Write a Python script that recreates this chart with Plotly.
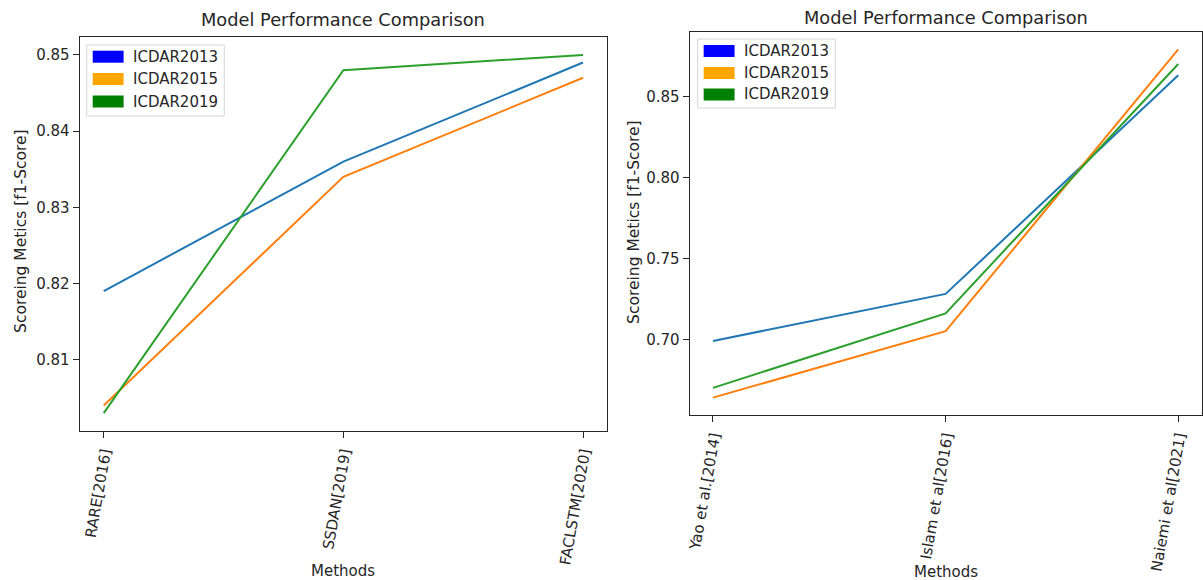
import plotly.graph_objects as go

# ---- data ----
methods_left = ["RARE[2016]", "SSDAN[2019]", "FACLSTM[2020]"]
left_icdar2013 = [0.819, 0.836, 0.849]
left_icdar2015 = [0.804, 0.834, 0.847]
left_icdar2019 = [0.803, 0.848, 0.850]

methods_right = ["Yao et al.[2014]", "Islam et al[2016]", "Naiemi et al[2021]"]
right_icdar2013 = [0.699, 0.728, 0.863]
right_icdar2015 = [0.664, 0.705, 0.879]
right_icdar2019 = [0.670, 0.716, 0.870]

series_names = ["ICDAR2013", "ICDAR2015", "ICDAR2019"]
line_colors = ["#1f77b4", "#ff7f0e", "#2ca02c"]
patch_colors = ["blue", "orange", "green"]

title_text = "Model Performance Comparison"
ytitle = "Scoreing Metics [f1-Score]"
xtitle = "Methods"

W, H = 1203, 580
FONT = "DejaVu Sans"
TXT = "#262626"


def px(x):
    return x / W


def py(y):
    return 1 - y / H


fig = go.Figure()

left_series = [left_icdar2013, left_icdar2015, left_icdar2019]
right_series = [right_icdar2013, right_icdar2015, right_icdar2019]

for name, vals, col in zip(series_names, left_series, line_colors):
    fig.add_trace(go.Scatter(x=methods_left, y=vals, mode="lines", name=name,
                             line=dict(color=col, width=2), xaxis="x", yaxis="y",
                             showlegend=False, hoverinfo="skip"))
for name, vals, col in zip(series_names, right_series, line_colors):
    fig.add_trace(go.Scatter(x=methods_right, y=vals, mode="lines", name=name,
                             line=dict(color=col, width=2), xaxis="x2", yaxis="y2",
                             showlegend=False, hoverinfo="skip"))

axis_common = dict(showline=True, linecolor=TXT, linewidth=1.2, mirror=True,
                   ticks="outside", ticklen=6, tickwidth=1, tickcolor=TXT,
                   showgrid=False, zeroline=False,
                   tickfont=dict(family=FONT, size=15, color=TXT))

fig.update_layout(
    width=W, height=H,
    margin=dict(l=0, r=0, t=0, b=0),
    paper_bgcolor="white", plot_bgcolor="white",
    hovermode=False,
    font=dict(family=FONT, size=15, color=TXT),
    xaxis=dict(domain=[px(76), px(605)], type="category", range=[-0.1, 2.1],
               tickangle=-80, anchor="y", **axis_common),
    yaxis=dict(domain=[py(431), py(37)], range=[0.80065, 0.85235],
               tickvals=[0.81, 0.82, 0.83, 0.84, 0.85], tickformat=".2f",
               anchor="x", **axis_common),
    xaxis2=dict(domain=[px(688), px(1201.5)], type="category", range=[-0.1, 2.1],
                tickangle=-80, anchor="y2", **axis_common),
    yaxis2=dict(domain=[py(415), py(32)], range=[0.65325, 0.88975],
                tickvals=[0.70, 0.75, 0.80, 0.85], tickformat=".2f",
                anchor="x2", **axis_common),
)

annotations = []
shapes = []


def add_text(x, y, text, size, angle=0, xanchor="center"):
    annotations.append(dict(x=px(x), y=py(y), xref="paper", yref="paper", text=text,
                            showarrow=False, textangle=angle, xanchor=xanchor,
                            yanchor="middle",
                            font=dict(family=FONT, size=size, color=TXT)))


# titles
add_text(340.5, 20, title_text, 17.8)
add_text(945, 17, title_text, 17.8)
# axis titles
add_text(17, 231, ytitle, 15.5, angle=-90)
add_text(632, 222, ytitle, 15.5, angle=-90)
add_text(340.5, 571, xtitle, 15)
add_text(945, 572, xtitle, 15)


def add_legend(x0, y0, x1, y1, row_y):
    shapes.append(dict(type="rect", xref="paper", yref="paper",
                       x0=px(x0), x1=px(x1), y0=py(y1), y1=py(y0),
                       line=dict(color="#d5d5d5", width=1),
                       fillcolor="rgba(255,255,255,0.85)", layer="above"))
    for name, col, ry in zip(series_names, patch_colors, row_y):
        shapes.append(dict(type="rect", xref="paper", yref="paper",
                           x0=px(x0 + 6), x1=px(x0 + 37), y0=py(ry + 6), y1=py(ry - 6),
                           line=dict(width=0), fillcolor=col, layer="above"))
        add_text(x0 + 44, ry, name, 15, xanchor="left")


add_legend(83, 45, 221, 116, [56.7, 79, 101.5])
add_legend(696, 39, 834, 108, [51, 73, 94.5])

fig.update_layout(annotations=annotations, shapes=shapes)

fig.write_html("out.html",
               config={"displayModeBar": False},
               post_script="document.body.style.margin='0';document.body.style.overflow='hidden';")
